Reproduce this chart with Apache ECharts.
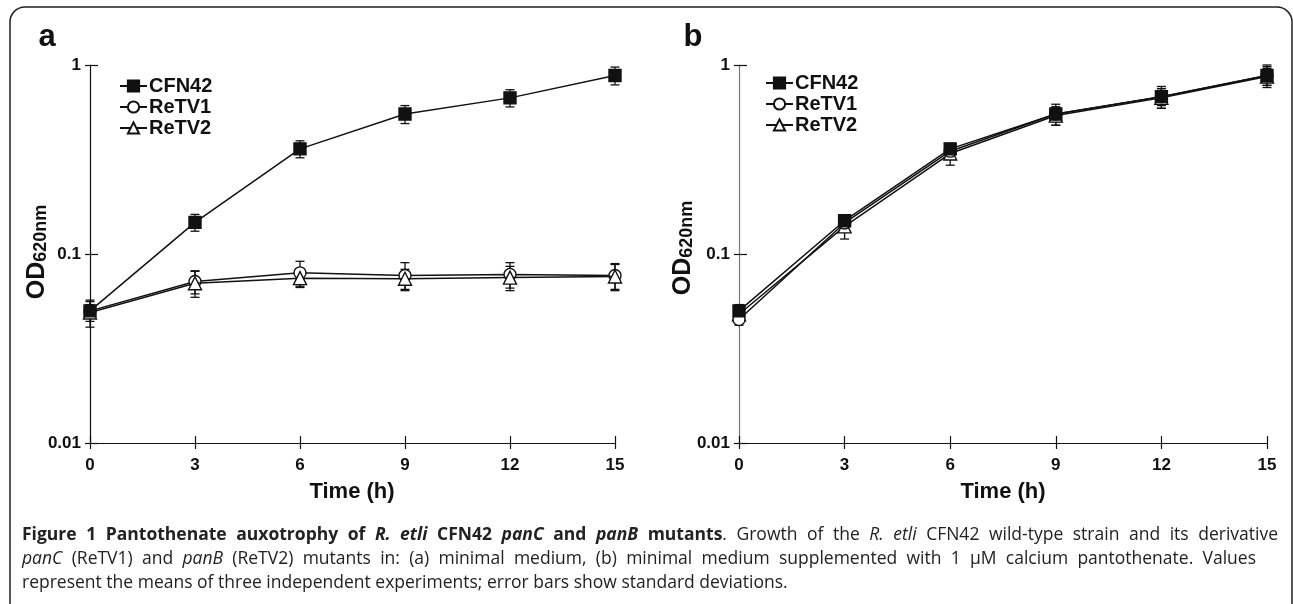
<!DOCTYPE html>
<html><head><meta charset="utf-8">
<script src="https://cdn.jsdelivr.net/npm/echarts@6/dist/echarts.min.js"></script>
<style>html,body{margin:0;padding:0;background:#fff}#c{width:1293px;height:604px}</style>
</head><body><div id="c"></div>
<script>
// ---------- data ----------
const time = [0, 3, 6, 9, 12, 15];
const seriesNames = ['CFN42', 'ReTV1', 'ReTV2'];
const yTickLabels = ['0.01', '0.1', '1'];
const panelLetters = ['a', 'b'];
const xTitle = 'Time (h)';
const yTitleMain = 'OD';
const yTitleSub = '620nm';

// panel a: minimal medium
const aCFN42 = [0.050, 0.147, 0.36, 0.55, 0.67, 0.88];
const aCFN42Err = [0.004, 0.015, 0.037, 0.06, 0.07, 0.095];
const aReTV1 = [0.050, 0.0715, 0.0795, 0.077, 0.078, 0.077];
const aReTV1Err = [0.006, 0.010, 0.012, 0.013, 0.012, 0.012];
const aReTV2 = [0.049, 0.070, 0.0745, 0.074, 0.075, 0.076];
const aReTV2Err = [0.008, 0.011, 0.008, 0.009, 0.011, 0.012];

// panel b: supplemented with calcium pantothenate
const bCFN42 = [0.050, 0.150, 0.36, 0.55, 0.68, 0.88];
const bCFN42Err = [0.004, 0.010, 0.020, 0.07, 0.09, 0.12];
const bReTV1 = [0.045, 0.146, 0.35, 0.55, 0.68, 0.88];
const bReTV1Err = [0.003, 0.012, 0.020, 0.05, 0.07, 0.10];
const bReTV2 = [0.048, 0.140, 0.34, 0.54, 0.67, 0.87];
const bReTV2Err = [0.004, 0.020, 0.045, 0.06, 0.08, 0.09];

// caption (text pieces: [text, fontStyle, fontWeight])
const captionLine1 = [
  ['Figure 1 Pantothenate auxotrophy of ', 'normal', 'bold'], ['R. etli', 'italic', 'bold'],
  [' CFN42 ', 'normal', 'bold'], ['panC', 'italic', 'bold'], [' and ', 'normal', 'bold'],
  ['panB', 'italic', 'bold'], [' mutants', 'normal', 'bold'], ['. Growth of the ', 'normal', 'normal'],
  ['R. etli', 'italic', 'normal'], [' CFN42 wild-type strain and its derivative', 'normal', 'normal']];
const captionLine2 = [
  ['panC', 'italic', 'normal'], [' (ReTV1) and ', 'normal', 'normal'], ['panB', 'italic', 'normal'],
  [' (ReTV2) mutants in: (a) minimal medium, (b) minimal medium supplemented with 1 \u00b5M calcium pantothenate. Values', 'normal', 'normal']];
const captionLine3 = [
  ['represent the means of three independent experiments; error bars show standard deviations.', 'normal', 'normal']];

// ---------- drawing ----------
const FONT = '"Liberation Sans", Arial, sans-serif';
const NARROW = '"Liberation Sans Narrow", "Liberation Sans", Arial, sans-serif';
const CAPFONT = '"Open Sans", "Noto Sans", sans-serif';
const chart = echarts.init(document.getElementById('c'), null, {renderer: 'canvas'});
const mctx = document.createElement('canvas').getContext('2d');
function measure(text, font) { mctx.font = font; return mctx.measureText(text).width; }

const grids = [
  {left: 90, top: 65, width: 525, height: 378},
  {left: 739, top: 65, width: 528, height: 378}
];
const symbols = ['rect', 'circle', 'triangle'];
const symbolSizes = [12, 12, 13];
const fills = ['#111', '#fff', '#fff'];
// stacking order of the markers in each panel (higher = drawn on top)
const stackZ = [[5, 3, 4], [5, 4, 3]];
const panelData = [
  [[aCFN42, aCFN42Err], [aReTV1, aReTV1Err], [aReTV2, aReTV2Err]],
  [[bCFN42, bCFN42Err], [bReTV1, bReTV1Err], [bReTV2, bReTV2Err]]
];
const yAxisColors = ['#111', '#777'];

const xAxes = [], yAxes = [], series = [];
grids.forEach((g, gi) => {
  const base = {type: 'value', gridIndex: gi, position: 'bottom', min: 0, max: 15, interval: 3, splitLine: {show: false}};
  xAxes.push(Object.assign({}, base, {
    axisLine: {lineStyle: {color: '#111', width: 1.2}},
    axisTick: {length: 6, lineStyle: {color: '#111', width: 1.2}},
    axisLabel: {margin: 14, fontFamily: FONT, fontWeight: 'bold', fontSize: 17, color: '#111'}
  }));
  xAxes.push(Object.assign({}, base, {
    axisLine: {show: false}, axisLabel: {show: false},
    axisTick: {inside: true, length: 7, lineStyle: {color: '#111', width: 1.2}}
  }));
  const ybase = {type: 'log', logBase: 10, gridIndex: gi, position: 'left', min: 0.01, max: 1,
    splitLine: {show: false}, minorTick: {show: false}};
  yAxes.push(Object.assign({}, ybase, {
    axisLine: {lineStyle: {color: yAxisColors[gi], width: 1.2}},
    axisTick: {length: 5, lineStyle: {color: '#111', width: 1.2}},
    axisLabel: {margin: 9, fontFamily: FONT, fontWeight: 'bold', fontSize: 17, color: '#111',
      formatter: v => yTickLabels[Math.round(Math.log10(v)) + 2]}
  }));
  yAxes.push(Object.assign({}, ybase, {
    axisLine: {show: false}, axisLabel: {show: false},
    axisTick: {inside: true, length: 8, lineStyle: {color: '#111', width: 1.2}}
  }));
  const xi = gi * 2, yi = gi * 2;
  panelData[gi].forEach((pair, si) => {
    const vals = pair[0], errs = pair[1];
    series.push({
      type: 'custom', name: seriesNames[si] + '_err', xAxisIndex: xi, yAxisIndex: yi, z: 1, silent: true,
      data: time.map((t, i) => [t, vals[i] - errs[i], vals[i] + errs[i]]),
      encode: {x: 0, y: [1, 2]},
      renderItem(params, api) {
        const lo = api.coord([api.value(0), api.value(1)]);
        const hi = api.coord([api.value(0), api.value(2)]);
        const w = 4.5, st = {stroke: '#111', lineWidth: 1.3};
        return {type: 'group', children: [
          {type: 'line', shape: {x1: lo[0], y1: lo[1], x2: hi[0], y2: hi[1]}, style: st},
          {type: 'line', shape: {x1: lo[0] - w, y1: lo[1], x2: lo[0] + w, y2: lo[1]}, style: st},
          {type: 'line', shape: {x1: hi[0] - w, y1: hi[1], x2: hi[0] + w, y2: hi[1]}, style: st}
        ]};
      }
    });
  });
  panelData[gi].forEach((pair, si) => {
    series.push({
      type: 'line', name: seriesNames[si], xAxisIndex: xi, yAxisIndex: yi, z: stackZ[gi][si],
      data: time.map((t, i) => [t, pair[0][i]]),
      symbol: symbols[si], symbolSize: symbolSizes[si], showAllSymbol: true,
      lineStyle: {color: '#111', width: 1.5},
      itemStyle: {color: fills[si], borderColor: '#111', borderWidth: 1.4},
      emphasis: {disabled: true}, animation: false
    });
  });
});

const legends = [{left: 119, top: 76}, {left: 765, top: 73}].map(p => ({
  left: p.left, top: p.top, orient: 'vertical', data: seriesNames, itemWidth: 27, itemHeight: 14, itemGap: 1,
  padding: 0, selectedMode: false,
  textStyle: {fontFamily: FONT, fontWeight: 'bold', fontSize: 20, color: '#111', padding: [0, 0, 0, -3]}
}));

// graphics: frame, panel letters, axis titles, caption
const graphics = [];
graphics.push({type: 'rect', silent: true, z: 10,
  shape: {x: 10, y: 7, width: 1282, height: 700, r: [15, 15, 0, 0]},
  style: {fill: null, stroke: '#222', lineWidth: 1.5}});
const letterPos = [[47, 37], [693, 37]];
panelLetters.forEach((l, i) => graphics.push({type: 'text', x: letterPos[i][0], y: letterPos[i][1],
  style: {text: l, font: 'bold 31px ' + FONT, fill: '#111', align: 'center', verticalAlign: 'middle'}}));
const xTitlePos = [[352, 492], [1003, 492]];
xTitlePos.forEach(p => graphics.push({type: 'text', x: p[0], y: p[1],
  style: {text: xTitle, font: 'bold 22px ' + NARROW, fill: '#111', align: 'center', verticalAlign: 'middle'}}));
const yTitlePos = [[37, 252], [683, 248]];
const fMain = 'bold 25px ' + FONT, fSub = 'bold 18px ' + FONT;
const wMain = measure(yTitleMain, fMain), wSub = measure(yTitleSub, fSub);
yTitlePos.forEach(p => graphics.push({type: 'group', x: p[0], y: p[1], rotation: Math.PI / 2, children: [
  {type: 'text', x: -(wMain + wSub) / 2, y: 0, style: {text: yTitleMain, font: fMain, fill: '#111', verticalAlign: 'middle'}},
  {type: 'text', x: -(wMain + wSub) / 2 + wMain, y: 4, style: {text: yTitleSub, font: fSub, fill: '#111', verticalAlign: 'middle'}}
]}));

const capLeft = 22;
const capLines = [
  {pieces: captionLine1, y: 535, right: 1278, justify: true},
  {pieces: captionLine2, y: 559, right: 1256, justify: true},
  {pieces: captionLine3, y: 583, right: 0, justify: false}
];
function capFont(st, wt) {
  return st + ' ' + (wt === 'bold' ? '700 17.5px ' : '400 17.5px ') + CAPFONT;
}
capLines.forEach(line => {
  const words = []; let cur = [];
  line.pieces.forEach(([txt, st, wt]) => {
    const parts = txt.split(' ');
    parts.forEach((p, k) => {
      if (k > 0) { if (cur.length) words.push(cur); cur = []; }
      if (p.length) cur.push([p, st, wt]);
    });
  });
  if (cur.length) words.push(cur);
  const widths = words.map(w => w.reduce((s, [p, st, wt]) => s + measure(p, capFont(st, wt)), 0));
  const total = widths.reduce((a, b) => a + b, 0);
  let gap = measure(' ', capFont('normal', 'normal'));
  if (line.justify) gap = Math.max(2, (line.right - capLeft - total) / (words.length - 1));
  let x = capLeft;
  words.forEach((w) => {
    w.forEach(([p, st, wt]) => {
      const f = capFont(st, wt);
      graphics.push({type: 'text', x: x, y: line.y, silent: true,
        style: {text: p, font: f, fill: '#222', verticalAlign: 'middle'}});
      x += measure(p, f);
    });
    x += gap;
  });
});

chart.setOption({
  animation: false,
  backgroundColor: '#fff',
  grid: grids.map(g => Object.assign({containLabel: false}, g)),
  xAxis: xAxes, yAxis: yAxes, legend: legends, series: series, graphic: graphics
});
</script></body></html>
